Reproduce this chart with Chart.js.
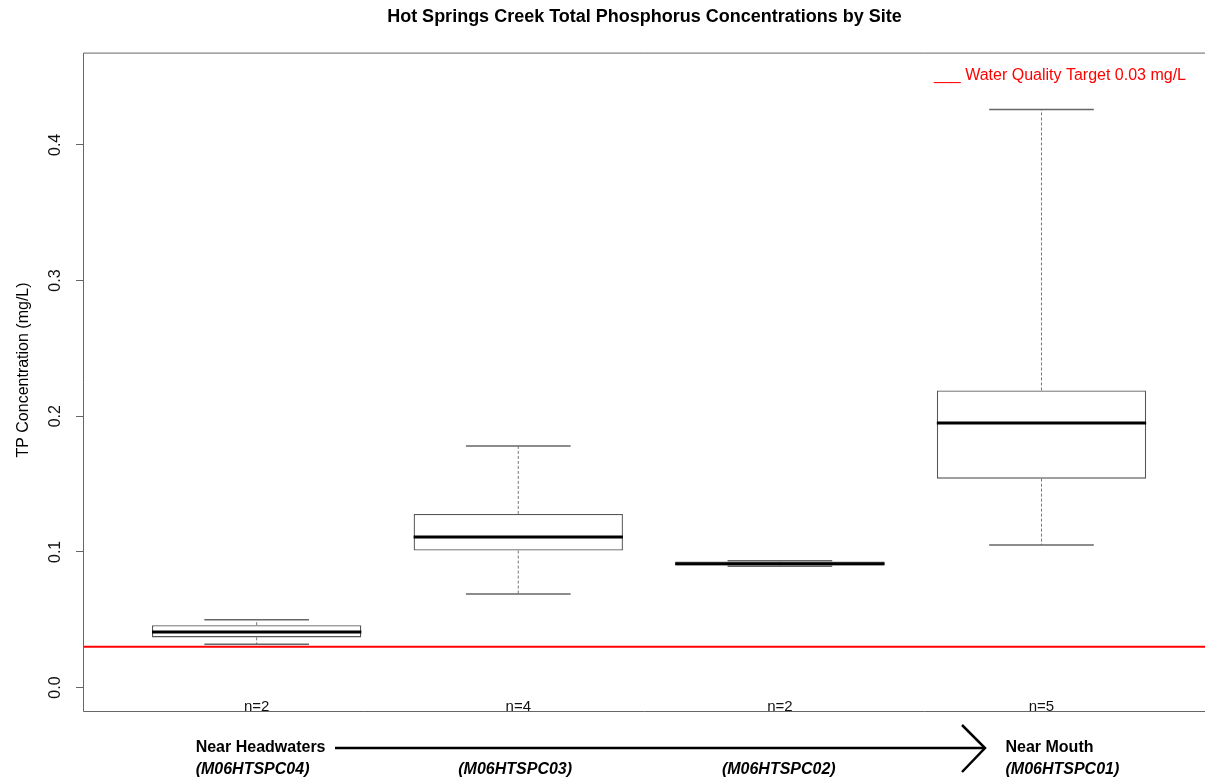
<!DOCTYPE html>
<html lang="en">
<head>
    <meta charset="UTF-8" />
    <title>Hot Springs Creek Total Phosphorus Concentrations by Site</title>
    <style>
        html, body {
            margin: 0;
            padding: 0;
            background: #fff;
            overflow: hidden;
        }

        .wrap {
            width: 1205px;
            height: 782px;
            position: relative;
        }
    </style>
    <script src="https://cdn.jsdelivr.net/npm/chart.js"></script>
</head>
<body>

    <div class="wrap">
        <canvas id="tpChart"></canvas>
    </div>

    <script>
        // Values (mg/L)
        const sites = ['(M06HTSPC04)', '(M06HTSPC03)', '(M06HTSPC02)', '(M06HTSPC01)'];
        const siteNotes = ['Near Headwaters', '', '', 'Near Mouth'];
        const counts = [2, 4, 2, 5];
        const whiskerLow = [0.032, 0.069, 0.0895, 0.105];
        const quartile1 = [0.037, 0.101, 0.090, 0.154];
        const medians = [0.041, 0.111, 0.0913, 0.195];
        const quartile3 = [0.046, 0.128, 0.093, 0.219];
        const whiskerHigh = [0.050, 0.178, 0.0935, 0.426];
        const targetValue = 0.03;
        const yTicks = [0, 0.1, 0.2, 0.3, 0.4];

        const FONT = '"Liberation Sans", Arial, sans-serif';
        const X_MIN = 0.34, X_MAX = 4.625;

        Chart.defaults.font.family = FONT;
        Chart.defaults.color = '#000';

        // petit helper pour un segment
        function seg(points, color, width, dash, order) {
            return {
                type: 'line',
                data: points,
                borderColor: color,
                borderWidth: width,
                borderDash: dash || [],
                pointRadius: 0,
                fill: false,
                order: order
            };
        }

        const datasets = [];

        datasets.push({
            type: 'bar',
            data: sites.map((s, i) => ({ x: i + 1, y: [quartile1[i], quartile3[i]] })),
            backgroundColor: '#fff',
            borderColor: '#555',
            borderWidth: 1.3,
            borderSkipped: false,
            categoryPercentage: 1,
            barPercentage: 0.8,
            order: 3
        });

        sites.forEach((s, i) => {
            const c = i + 1;
            datasets.push(seg([{ x: c, y: quartile3[i] }, { x: c, y: whiskerHigh[i] }], '#777', 1, [3, 2], 4));
            datasets.push(seg([{ x: c, y: quartile1[i] }, { x: c, y: whiskerLow[i] }], '#777', 1, [3, 2], 4));
            datasets.push(seg([{ x: c - 0.2, y: whiskerHigh[i] }, { x: c + 0.2, y: whiskerHigh[i] }], '#666', 1.5, null, 2));
            datasets.push(seg([{ x: c - 0.2, y: whiskerLow[i] }, { x: c + 0.2, y: whiskerLow[i] }], '#666', 1.5, null, 2));
            datasets.push(seg([{ x: c - 0.4, y: medians[i] }, { x: c + 0.4, y: medians[i] }], '#000', 3, null, 0));
        });

        datasets.push(seg([{ x: X_MIN, y: targetValue }, { x: X_MAX, y: targetValue }], '#ff0000', 2, null, 1));

        // textes autour du graphique
        const annotate = {
            id: 'annotate',
            afterDraw(chart) {
                const { ctx, chartArea: a, scales: { x, y } } = chart;
                ctx.save();

                // cadre
                ctx.strokeStyle = '#666';
                ctx.lineWidth = 1;
                ctx.beginPath();
                ctx.moveTo(a.right, a.top + 0.5);
                ctx.lineTo(a.left - 0.5, a.top + 0.5);
                ctx.lineTo(a.left - 0.5, a.bottom - 0.5);
                ctx.lineTo(a.right, a.bottom - 0.5);
                ctx.stroke();

                // graduations y (verticales)
                ctx.fillStyle = '#111';
                ctx.font = '16px ' + FONT;
                ctx.textAlign = 'center';
                ctx.textBaseline = 'middle';
                yTicks.forEach(v => {
                    ctx.save();
                    ctx.translate(56, y.getPixelForValue(v));
                    ctx.rotate(-Math.PI / 2);
                    ctx.fillText(v.toFixed(1), 0, 0);
                    ctx.restore();
                });

                // titre de l'axe y
                ctx.save();
                ctx.fillStyle = '#000';
                ctx.translate(24, 370);
                ctx.rotate(-Math.PI / 2);
                ctx.fillText('TP Concentration (mg/L)', 0, 0);
                ctx.restore();

                // n=
                ctx.font = '15px ' + FONT;
                ctx.textBaseline = 'alphabetic';
                counts.forEach((n, i) => {
                    ctx.fillText('n=' + n, x.getPixelForValue(i + 1), a.bottom - 1);
                });

                // légende
                ctx.fillStyle = '#ff0000';
                ctx.font = '16px ' + FONT;
                ctx.textAlign = 'right';
                ctx.textBaseline = 'middle';
                ctx.fillText('___ Water Quality Target ' + targetValue.toFixed(2) + ' mg/L', 1186, 76);

                // sites sous l'axe
                ctx.fillStyle = '#000';
                ctx.textAlign = 'left';
                const offs = [61, 60, 58, 36];
                sites.forEach((s, i) => {
                    const px = x.getPixelForValue(i + 1) - offs[i];
                    if (siteNotes[i]) {
                        ctx.font = 'bold 16px ' + FONT;
                        ctx.fillText(siteNotes[i], px, 748);
                    }
                    ctx.font = 'italic bold 16px ' + FONT;
                    ctx.fillText(s, px, 770);
                });

                // flèche
                ctx.strokeStyle = '#000';
                ctx.lineWidth = 2.5;
                ctx.beginPath();
                ctx.moveTo(335, 748);
                ctx.lineTo(984, 748);
                ctx.stroke();
                ctx.beginPath();
                ctx.moveTo(962, 725);
                ctx.lineTo(985, 748);
                ctx.lineTo(962, 772);
                ctx.stroke();

                ctx.restore();
            }
        };

        new Chart(document.getElementById('tpChart'), {
            type: 'bar',
            data: { datasets: datasets },
            options: {
                responsive: true,
                maintainAspectRatio: false,
                animation: false,
                events: [],
                layout: { padding: 0 },
                plugins: {
                    legend: { display: false },
                    tooltip: { enabled: false },
                    title: {
                        display: true,
                        fullSize: false,
                        text: 'Hot Springs Creek Total Phosphorus Concentrations by Site',
                        font: { size: 18, weight: 'bold' },
                        color: '#000',
                        padding: { top: 6, bottom: 25 }
                    }
                },
                scales: {
                    x: {
                        type: 'linear',
                        min: X_MIN,
                        max: X_MAX,
                        offset: false,
                        afterBuildTicks: (s) => { s.ticks = counts.map((n, i) => ({ value: i + 1 })); },
                        ticks: { display: false },
                        grid: { display: false, offset: false },
                        border: { display: false },
                        afterFit: (s) => { s.height = 70; }
                    },
                    y: {
                        type: 'linear',
                        min: -0.018,
                        max: 0.468,
                        ticks: { display: false },
                        afterBuildTicks: (s) => { s.ticks = yTicks.map(v => ({ value: v })); },
                        grid: {
                            drawOnChartArea: false,
                            drawTicks: true,
                            tickLength: 8,
                            color: '#666'
                        },
                        border: { display: false },
                        title: { display: false },
                        afterFit: (s) => { s.width = 84; }
                    }
                }
            },
            plugins: [annotate]
        });
    </script>
</body>
</html>
